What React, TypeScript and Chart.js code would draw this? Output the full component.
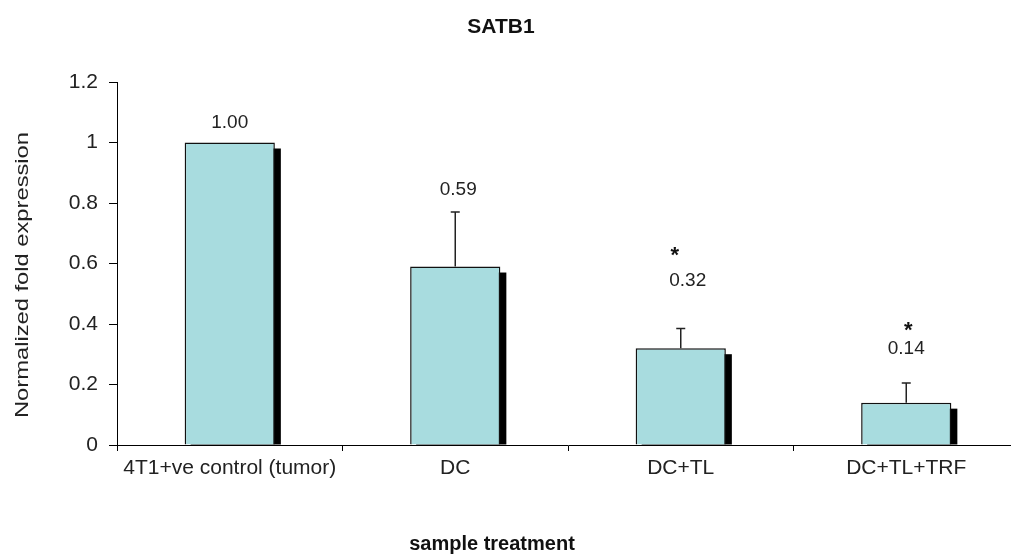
import React, { useEffect, useRef } from "react";
import { Chart, registerables } from "chart.js";

Chart.register(...registerables);

const chartTitle = "SATB1";
const xAxisTitle = "sample treatment";
const yAxisTitle = "Normalized fold expression";
const categories = ["4T1+ve control (tumor)", "DC", "DC+TL", "DC+TL+TRF"];
const foldExpression = [1.0, 0.59, 0.32, 0.14];
const errorPlus = [0, 0.18, 0.065, 0.065];
const significance = ["", "", "*", "*"];
const yTickLabels = ["0", "0.2", "0.4", "0.6", "0.8", "1", "1.2"];

const FONT = "'Liberation Sans', Arial, Helvetica, sans-serif";
const BAR_FILL = "#A8DCDF";

// label placement (pixels above whisker top, x nudges)
const valueLift = [20, 22, 48, 34];
const valueNudge = [0, 3, 7, 0];
const starLift = [0, 0, 79, 58];
const starNudge = [0, 0, -6, 2];

const decorPlugin = {
  id: "decor",
  beforeDatasetsDraw(chart: any) {
    const { ctx, chartArea } = chart;
    const meta = chart.getDatasetMeta(0);
    ctx.save();
    ctx.beginPath();
    ctx.rect(chartArea.left, 0, chartArea.right - chartArea.left, chartArea.bottom);
    ctx.clip();
    ctx.fillStyle = "#000";
    meta.data.forEach((bar: any) => {
      const { x, y, base, width } = bar.getProps(["x", "y", "base", "width"], true);
      ctx.fillRect(x - width / 2 + 6, y + 6, width, base - y - 6);
    });
    ctx.restore();
  },
  afterDatasetsDraw(chart: any) {
    const { ctx } = chart;
    const yScale = chart.scales.y;
    const meta = chart.getDatasetMeta(0);
    ctx.save();
    meta.data.forEach((bar: any, i: number) => {
      const { x, y } = bar.getProps(["x", "y"], true);
      let top = y;
      if (errorPlus[i] > 0) {
        top = yScale.getPixelForValue(foldExpression[i] + errorPlus[i]);
        ctx.strokeStyle = "#222";
        ctx.lineWidth = 1.5;
        ctx.beginPath();
        ctx.moveTo(x, y);
        ctx.lineTo(x, top);
        ctx.moveTo(x - 4.5, top);
        ctx.lineTo(x + 4.5, top);
        ctx.stroke();
      }
      ctx.fillStyle = "#222";
      ctx.font = `19px ${FONT}`;
      ctx.textAlign = "center";
      ctx.textBaseline = "middle";
      ctx.fillText(foldExpression[i].toFixed(2), x + valueNudge[i], top - valueLift[i]);
      if (significance[i]) {
        ctx.font = `bold 22px ${FONT}`;
        ctx.textBaseline = "alphabetic";
        ctx.fillStyle = "#111";
        ctx.fillText(significance[i], x + starNudge[i], top - starLift[i] + 12.5);
      }
    });
    ctx.restore();
  },
  afterDraw(chart: any) {
    const { ctx } = chart;
    ctx.save();
    ctx.fillStyle = "#111";
    ctx.textAlign = "center";
    ctx.textBaseline = "middle";
    ctx.font = `bold 21px ${FONT}`;
    ctx.fillText(chartTitle, 501, 27);
    ctx.font = `bold 20px ${FONT}`;
    ctx.fillText(xAxisTitle, 492, 544);
    ctx.fillStyle = "#222";
    ctx.font = `19px ${FONT}`;
    ctx.translate(23, 275);
    ctx.rotate(-Math.PI / 2);
    const w = ctx.measureText(yAxisTitle).width;
    ctx.scale(286 / w, 1);
    ctx.fillText(yAxisTitle, 0, 0);
    ctx.restore();
  },
};

export default function App() {
  const canvasRef = useRef<HTMLCanvasElement | null>(null);

  useEffect(() => {
    const canvas = canvasRef.current;
    if (!canvas) return;
    const chart = new Chart(canvas, {
      type: "bar",
      data: {
        labels: categories,
        datasets: [
          {
            data: foldExpression,
            backgroundColor: BAR_FILL,
            borderColor: "#111",
            borderWidth: 1.5,
            barPercentage: 0.4,
            categoryPercentage: 1,
          },
        ],
      },
      options: {
        responsive: false,
        animation: false,
        devicePixelRatio: 1,
        layout: { padding: { top: 82, right: 6, bottom: 0, left: 0 } },
        plugins: {
          legend: { display: false },
          tooltip: { enabled: false },
          title: { display: false },
        },
        scales: {
          x: {
            offset: true,
            grid: {
              offset: true,
              drawOnChartArea: false,
              drawTicks: true,
              tickLength: 6,
              color: "#000",
              tickColor: "#000",
            },
            border: { display: true, color: "#000", width: 1 },
            ticks: {
              color: "#222",
              font: { family: FONT, size: 21 },
              padding: 5,
              maxRotation: 0,
              autoSkip: false,
            },
            afterFit(scale: any) {
              scale.height = 109;
            },
          },
          y: {
            min: 0,
            max: 1.2,
            grid: {
              drawOnChartArea: false,
              drawTicks: true,
              tickLength: 8,
              color: "#000",
              tickColor: "#000",
            },
            border: { display: true, color: "#000", width: 1 },
            ticks: {
              stepSize: 0.2,
              color: "#222",
              font: { family: FONT, size: 21 },
              padding: 11,
              callback: (_v: any, i: number) => yTickLabels[i],
            },
            afterFit(scale: any) {
              scale.width = 117;
            },
          },
        },
      },
      plugins: [decorPlugin],
    });
    return () => chart.destroy();
  }, []);

  return (
    <div
      style={{
        position: "fixed",
        left: 0,
        top: 0,
        width: 1011,
        height: 554,
        overflow: "hidden",
        background: "#fff",
      }}
    >
      <canvas ref={canvasRef} width={1025} height={554} style={{ display: "block" }} />
    </div>
  );
}
